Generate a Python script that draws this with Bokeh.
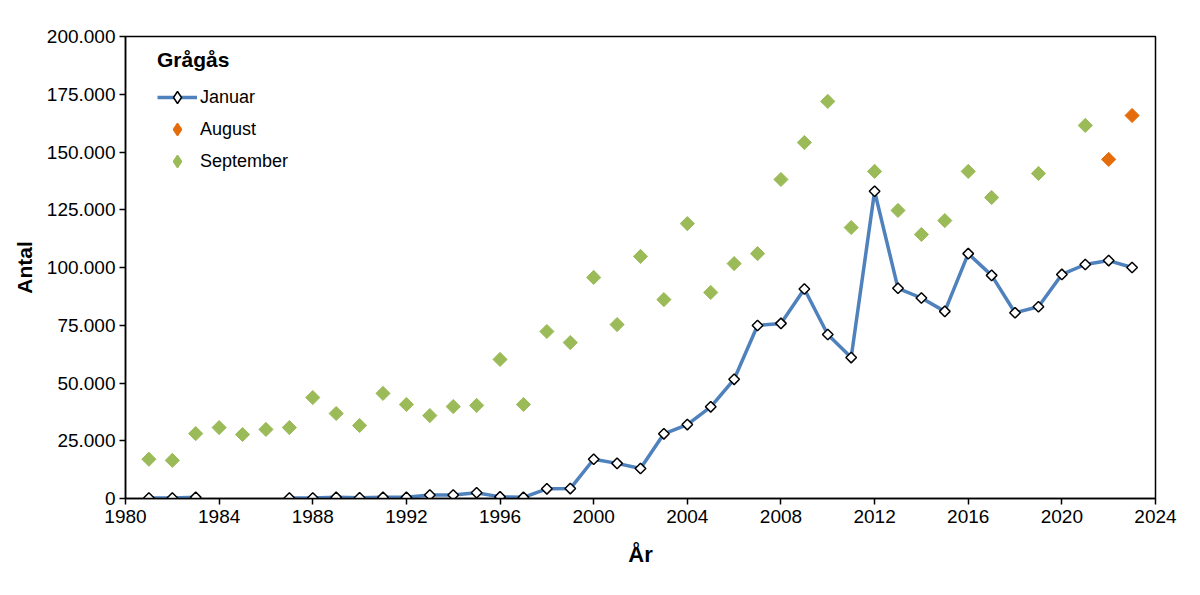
import math
from bokeh.plotting import figure
from bokeh.models import ColumnDataSource, Range1d, FixedTicker, CustomJSTickFormatter, Legend, LegendItem
from bokeh.embed import file_html
from bokeh.resources import INLINE

nan = float("nan")
years = list(range(1981, 2024))
januar = [200, 200, 500, nan, nan, nan, 200, 200, 500, 300, 500, 500, 1500, 1500, 2500, 700, 500,
          4200, 4300, 17000, 15200, 13000, 28000, 32000, 39700, 51600, 74900, 75800, 90700, 71000,
          61000, 133000, 91000, 86800, 81000, 106000, 96600, 80400, 83000, 97000, 101300, 103000, 100000]
september = [17000, 16500, 28100, 30700, 27700, 29900, 30700, 43700, 36800, 31600, 45500, 40700, 35900,
             39800, 40300, 60200, 40700, 72300, 67500, 95700, 75300, 104800, 86100, 119000, 89200, 101700,
             106000, 138100, 154100, 171900, 117300, 141600, 124700, 114300, 120300, 141600, 130300, nan,
             140700, nan, 161500, nan, nan]
aug_years = [2022, 2023]
august = [146800, 165800]
x_ticks = list(range(1980, 2025, 4))
y_ticks = list(range(0, 200001, 25000))

FONT = "Liberation Sans"
ROT = math.pi / 4
BLUE, GREEN, ORANGE = "#4F81BD", "#9BBB59", "#E46C0A"

p = figure(width=1200, height=595, output_backend="svg", toolbar_location=None,
           x_range=Range1d(1980, 2024), y_range=Range1d(0, 200000),
           min_border_left=125, min_border_right=45, min_border_top=36, min_border_bottom=97)
p.background_fill_color = "white"
p.border_fill_color = "white"
p.outline_line_color = "black"
p.outline_line_width = 1.5
p.xgrid.visible = False
p.ygrid.visible = False

src_j = ColumnDataSource(dict(x=years, y=januar))
src_s = ColumnDataSource(dict(x=years, y=september))
src_a = ColumnDataSource(dict(x=aug_years, y=august))
blank = ColumnDataSource(dict(x=[nan], y=[nan]))

p.scatter("x", "y", source=src_s, marker="square", angle=ROT, size=10, fill_color=GREEN, line_color=GREEN)
p.scatter("x", "y", source=src_a, marker="square", angle=ROT, size=10, fill_color=ORANGE, line_color=ORANGE)
jl = p.line("x", "y", source=src_j, line_color=BLUE, line_width=3.5)
p.scatter("x", "y", source=src_j, marker="square", angle=ROT, size=7.5, fill_color="white",
          line_color="black", line_width=1.5)

# legend-only glyphs (legend ignores marker angle, so use diamonds there)
lj = p.scatter("x", "y", source=blank, marker="diamond", fill_color="white", line_color="black", line_width=1.5)
la = p.scatter("x", "y", source=blank, marker="diamond", fill_color=ORANGE, line_color=ORANGE, line_width=1.5)
ls = p.scatter("x", "y", source=blank, marker="diamond", fill_color=GREEN, line_color=GREEN, line_width=1.5)

for ax in (p.xaxis[0], p.yaxis[0]):
    ax.axis_line_color = "black"
    ax.axis_line_width = 1.5
    ax.major_tick_line_color = "black"
    ax.major_tick_line_width = 1.5
    ax.major_tick_in = 0
    ax.major_tick_out = 6
    ax.minor_tick_line_color = None
    ax.major_label_text_font = FONT
    ax.major_label_text_font_size = "19px"
    ax.major_label_text_color = "black"
    ax.axis_label_text_font = FONT
    ax.axis_label_text_font_style = "bold"
    ax.axis_label_text_color = "black"

p.xaxis.ticker = FixedTicker(ticks=x_ticks)
p.yaxis.ticker = FixedTicker(ticks=y_ticks)
p.yaxis.formatter = CustomJSTickFormatter(
    code="return Math.round(tick).toString().replace(/\\B(?=(\\d{3})+(?!\\d))/g, '.');")
p.xaxis.axis_label = "År"
p.yaxis.axis_label = "Antal"
p.xaxis.axis_label_text_font_size = "22px"
p.yaxis.axis_label_text_font_size = "21px"
p.xaxis.axis_label_standoff = 16
p.yaxis.axis_label_standoff = 8
p.xaxis.major_label_standoff = 5
p.yaxis.major_label_standoff = 4

legend = Legend(items=[
    LegendItem(label="Januar", renderers=[jl, lj]),
    LegendItem(label="August", renderers=[la]),
    LegendItem(label="September", renderers=[ls]),
], location=(32, 322))
legend.title = "Grågås"
legend.title_text_font = FONT
legend.title_text_font_style = "bold"
legend.title_text_font_size = "21px"
legend.title_text_color = "black"
legend.title_standoff = 10
legend.label_text_font = FONT
legend.label_text_font_size = "18px"
legend.label_text_color = "black"
legend.border_line_color = None
legend.background_fill_alpha = 0
legend.glyph_width = 40
legend.glyph_height = 30
legend.label_height = 30
legend.label_standoff = 3
legend.spacing = 2
legend.margin = 0
legend.padding = 0
p.add_layout(legend)

open("out.html", "w").write(file_html(p, INLINE))
